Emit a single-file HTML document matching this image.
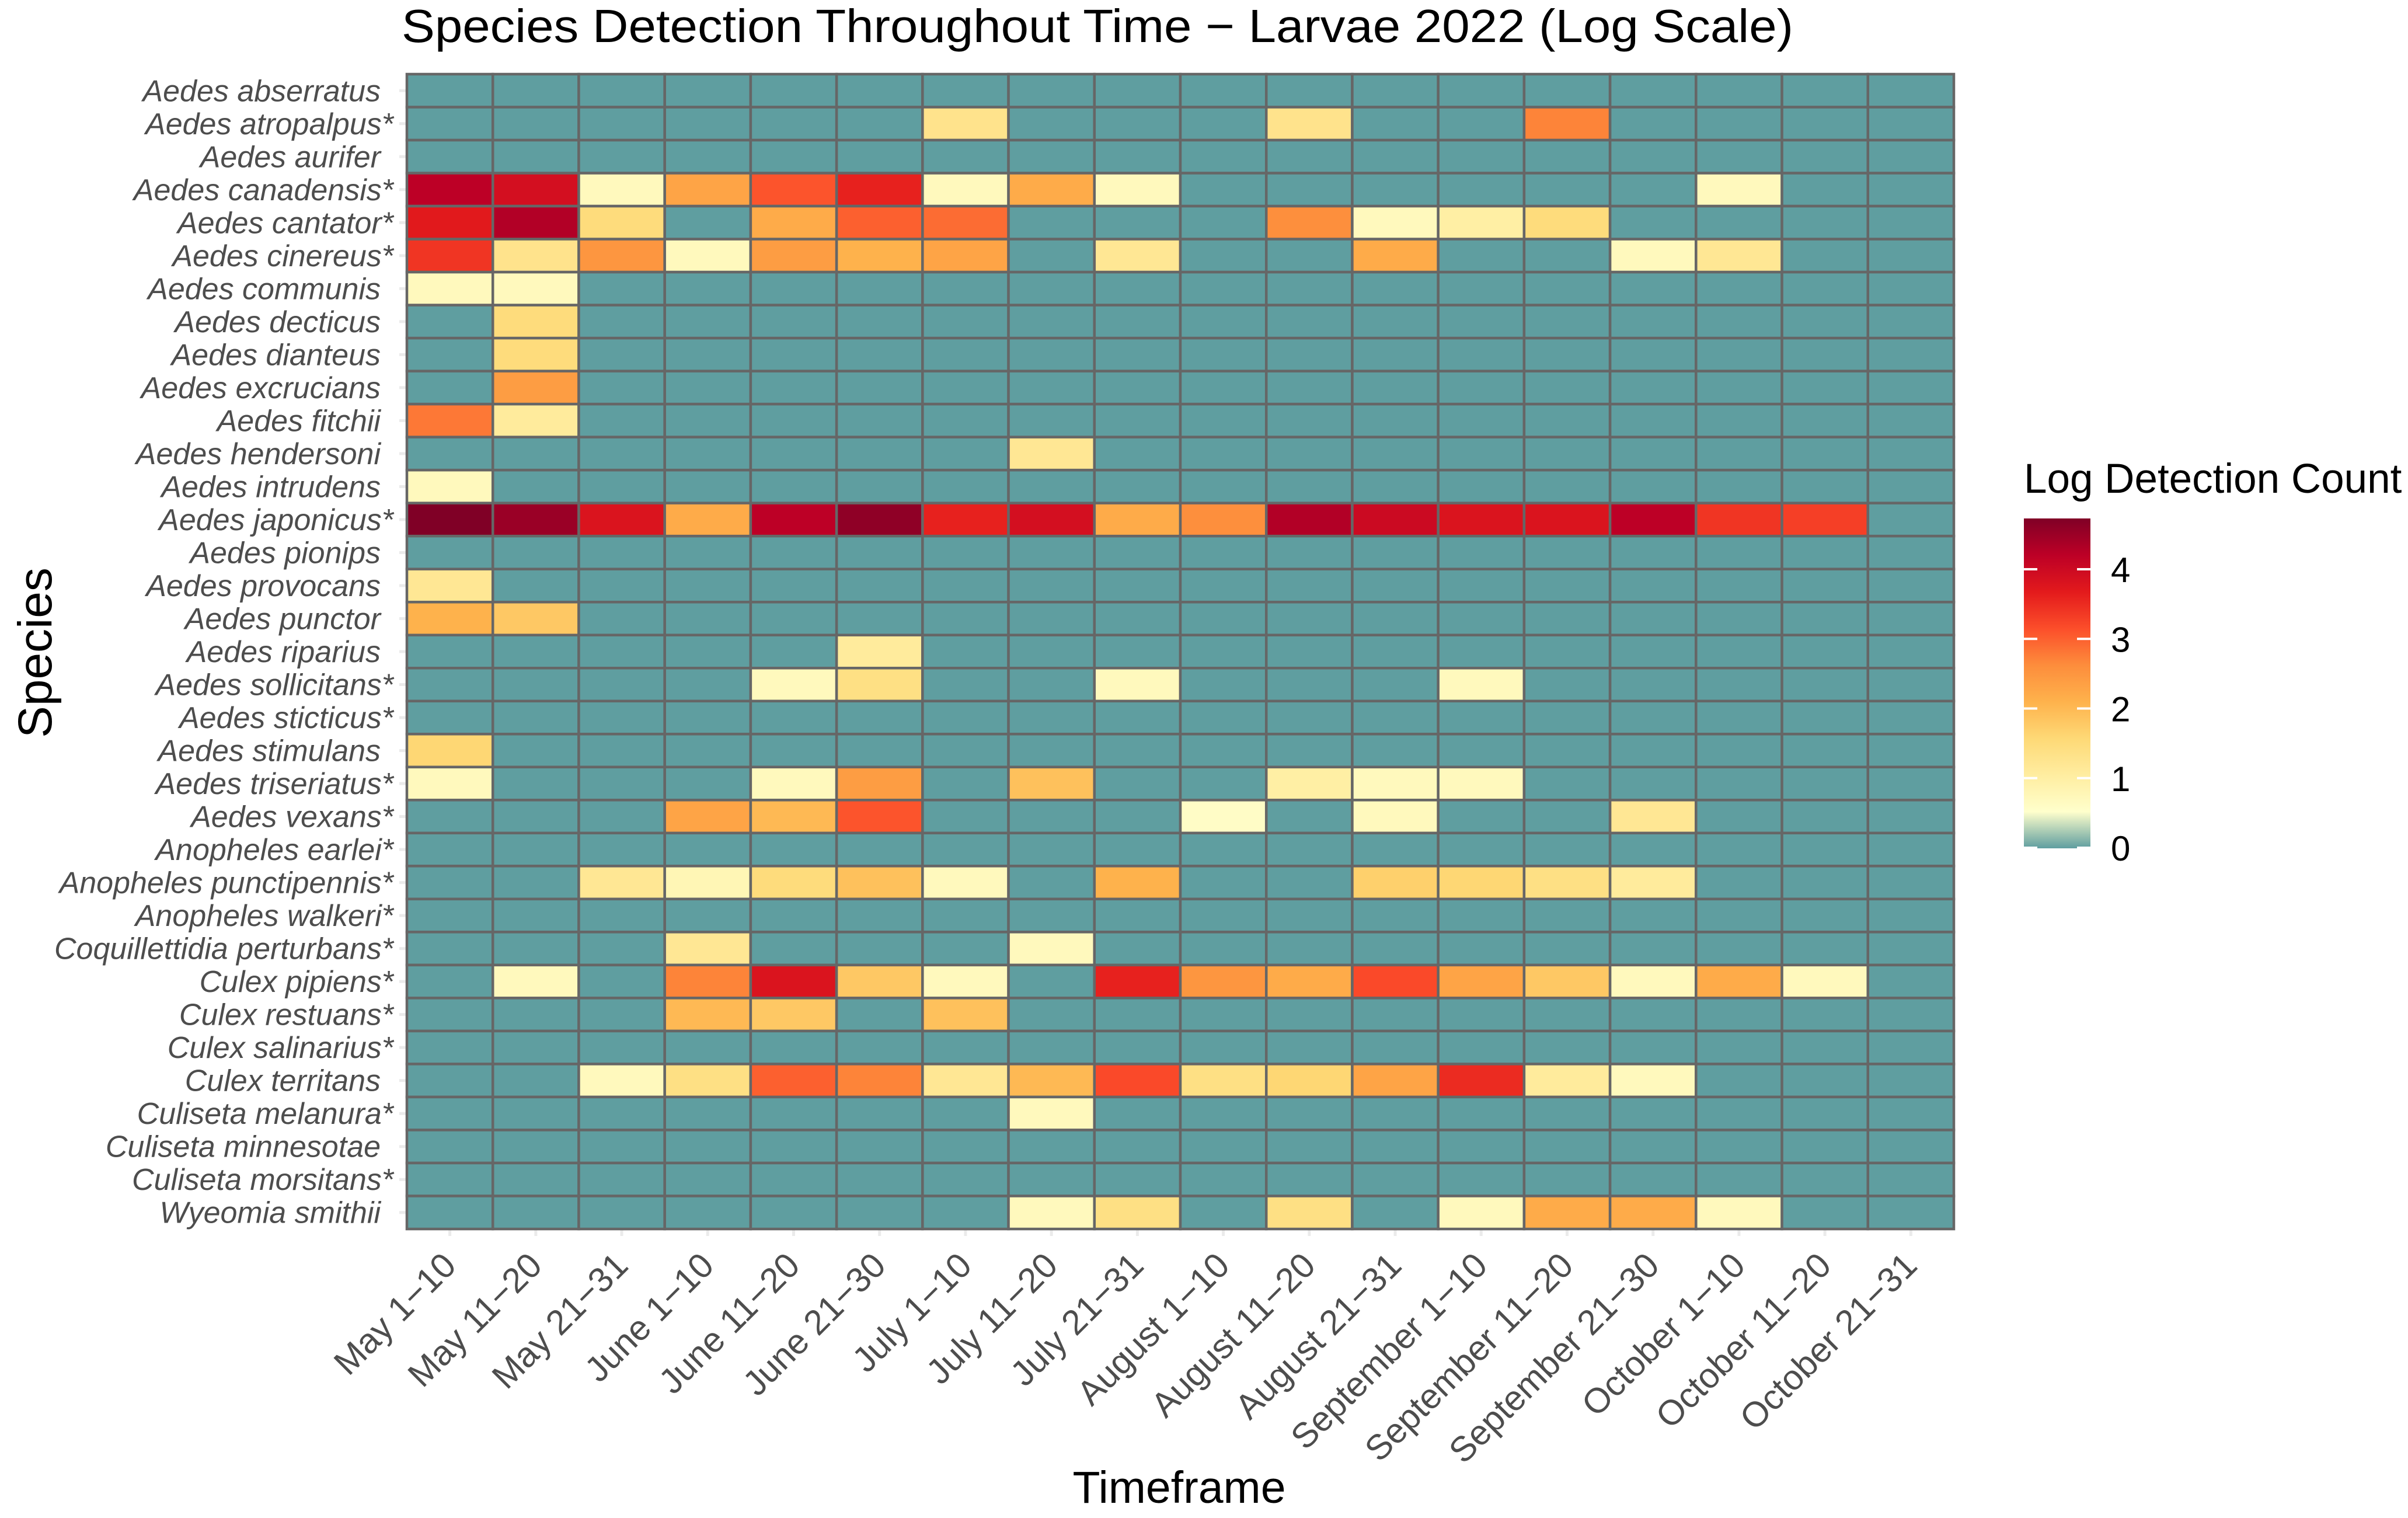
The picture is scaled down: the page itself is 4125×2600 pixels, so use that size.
<!DOCTYPE html>
<html><head><meta charset="utf-8"><style>
html,body{margin:0;padding:0;background:#fff;}
svg{display:block;font-family:"Liberation Sans",Arial,sans-serif;}
</style></head><body>
<svg id="chart" width="4125" height="2600" viewBox="0 0 4125 2600" xmlns="http://www.w3.org/2000/svg">
<defs>
<linearGradient id="lg" x1="0" y1="1" x2="0" y2="0">
<stop offset="0" stop-color="#5F9EA0"/><stop offset="0.111" stop-color="#FFFFCC"/><stop offset="0.222" stop-color="#FFEDA0"/><stop offset="0.333" stop-color="#FED976"/><stop offset="0.444" stop-color="#FEB24C"/><stop offset="0.555" stop-color="#FD8D3C"/><stop offset="0.666" stop-color="#FC4E2A"/><stop offset="0.777" stop-color="#E31A1C"/><stop offset="0.888" stop-color="#BD0026"/><stop offset="1" stop-color="#800026"/>
</linearGradient>
</defs>
<text x="688" y="72" font-size="80" fill="#000" textLength="2384" lengthAdjust="spacingAndGlyphs">Species Detection Throughout Time − Larvae 2022 (Log Scale)</text>
<g id="ygrid"></g>
<g id="xgrid"></g>
<g id="cells"></g>
<g id="ylabels"></g>
<g id="xlabels"></g>
<text x="2020" y="2574" font-size="77" text-anchor="middle" fill="#000">Timeframe</text>
<text transform="translate(88,1118) rotate(-90)" font-size="82" text-anchor="middle" fill="#000">Species</text>
<g>
<text x="3467" y="844" font-size="71" fill="#000">Log Detection Count</text>
<rect x="3467" y="888" width="114" height="565" fill="url(#lg)"/>
<g id="legticks"></g>
</g>
</svg>
<script>
const species = ["Aedes abserratus","Aedes atropalpus*","Aedes aurifer","Aedes canadensis*","Aedes cantator*","Aedes cinereus*","Aedes communis","Aedes decticus","Aedes dianteus","Aedes excrucians","Aedes fitchii","Aedes hendersoni","Aedes intrudens","Aedes japonicus*","Aedes pionips","Aedes provocans","Aedes punctor","Aedes riparius","Aedes sollicitans*","Aedes sticticus*","Aedes stimulans","Aedes triseriatus*","Aedes vexans*","Anopheles earlei*","Anopheles punctipennis*","Anopheles walkeri*","Coquillettidia perturbans*","Culex pipiens*","Culex restuans*","Culex salinarius*","Culex territans","Culiseta melanura*","Culiseta minnesotae","Culiseta morsitans*","Wyeomia smithii"];
const timeframes = ["May 1−10","May 11−20","May 21−31","June 1−10","June 11−20","June 21−30","July 1−10","July 11−20","July 21−31","August 1−10","August 11−20","August 21−31","September 1−10","September 11−20","September 21−30","October 1−10","October 11−20","October 21−31"];
const legendTicks = [0,1,2,3,4];
const values = [
[0,0,0,0,0,0,0,0,0,0,0,0,0,0,0,0,0,0],
[0,0,0,0,0,0,1.3,0,0,0,1.3,0,0,2.7,0,0,0,0],
[0,0,0,0,0,0,0,0,0,0,0,0,0,0,0,0,0,0],
[4.2,3.9,0.7,2.3,3.1,3.6,0.7,2.2,0.7,0,0,0,0,0,0,0.7,0,0],
[3.7,4.3,1.5,0,2.2,3.0,2.9,0,0,0,2.6,0.7,1.0,1.5,0,0,0,0],
[3.4,1.3,2.5,0.7,2.4,2.1,2.3,0,1.2,0,0,2.2,0,0,0.7,1.2,0,0],
[0.7,0.7,0,0,0,0,0,0,0,0,0,0,0,0,0,0,0,0],
[0,1.5,0,0,0,0,0,0,0,0,0,0,0,0,0,0,0,0],
[0,1.5,0,0,0,0,0,0,0,0,0,0,0,0,0,0,0,0],
[0,2.4,0,0,0,0,0,0,0,0,0,0,0,0,0,0,0,0],
[2.8,1.1,0,0,0,0,0,0,0,0,0,0,0,0,0,0,0,0],
[0,0,0,0,0,0,0,1.2,0,0,0,0,0,0,0,0,0,0],
[0.7,0,0,0,0,0,0,0,0,0,0,0,0,0,0,0,0,0],
[4.73,4.5,3.8,2.2,4.2,4.6,3.6,3.9,2.2,2.6,4.3,4.0,3.8,3.8,4.2,3.4,3.3,0],
[0,0,0,0,0,0,0,0,0,0,0,0,0,0,0,0,0,0],
[1.2,0,0,0,0,0,0,0,0,0,0,0,0,0,0,0,0,0],
[2.1,1.8,0,0,0,0,0,0,0,0,0,0,0,0,0,0,0,0],
[0,0,0,0,0,1.1,0,0,0,0,0,0,0,0,0,0,0,0],
[0,0,0,0,0.7,1.4,0,0,0.7,0,0,0,0.7,0,0,0,0,0],
[0,0,0,0,0,0,0,0,0,0,0,0,0,0,0,0,0,0],
[1.6,0,0,0,0,0,0,0,0,0,0,0,0,0,0,0,0,0],
[0.7,0,0,0,0.7,2.4,0,1.9,0,0,1.0,0.7,0.7,0,0,0,0,0],
[0,0,0,2.3,2.0,3.1,0,0,0,0.6,0,0.7,0,0,1.2,0,0,0],
[0,0,0,0,0,0,0,0,0,0,0,0,0,0,0,0,0,0],
[0,0,1.2,0.8,1.5,1.9,0.7,0,2.1,0,0,1.7,1.6,1.4,1.1,0,0,0],
[0,0,0,0,0,0,0,0,0,0,0,0,0,0,0,0,0,0],
[0,0,0,1.2,0,0,0,0.7,0,0,0,0,0,0,0,0,0,0],
[0,0.7,0,2.7,3.8,1.8,0.7,0,3.6,2.5,2.2,3.2,2.3,1.8,0.7,2.2,0.7,0],
[0,0,0,2.0,1.8,0,1.9,0,0,0,0,0,0,0,0,0,0,0],
[0,0,0,0,0,0,0,0,0,0,0,0,0,0,0,0,0,0],
[0,0,0.7,1.4,3.0,2.7,1.2,2.0,3.2,1.4,1.6,2.3,3.5,1.1,0.7,0,0,0],
[0,0,0,0,0,0,0,0.7,0,0,0,0,0,0,0,0,0,0],
[0,0,0,0,0,0,0,0,0,0,0,0,0,0,0,0,0,0],
[0,0,0,0,0,0,0,0,0,0,0,0,0,0,0,0,0,0],
[0,0,0,0,0,0,0,0.7,1.4,0,1.4,0,0.7,2.2,2.2,0.7,0,0]
];
const vmax = 4.73;
const NS="http://www.w3.org/2000/svg";
const X0=697,X1=3347,Y0=127,Y1=2105;
const cw=(X1-X0)/timeframes.length, ch=(Y1-Y0)/species.length;
function xPos(i){return X0+i*cw;}
function yPos(j){return Y0+j*ch;}
const stops=[[0,"#5F9EA0"],[0.111,"#FFFFCC"],[0.222,"#FFEDA0"],[0.333,"#FED976"],[0.444,"#FEB24C"],[0.555,"#FD8D3C"],[0.666,"#FC4E2A"],[0.777,"#E31A1C"],[0.888,"#BD0026"],[1,"#800026"]];
function hx(h){return [1,3,5].map(k=>parseInt(h.substr(k,2),16));}
function color(v){
  let t=Math.max(0,Math.min(1,v/vmax));
  for(let k=1;k<stops.length;k++){
    if(t<=stops[k][0]){
      const a=stops[k-1],b=stops[k];const f=(t-a[0])/(b[0]-a[0]);
      const ca=hx(a[1]),cb=hx(b[1]);
      return "rgb("+ca.map((c,i)=>Math.round(c+(cb[i]-c)*f)).join(",")+")";
    }
  }
  return stops[stops.length-1][1];
}
function mk(tag,attrs,parent){const e=document.createElementNS(NS,tag);for(const k in attrs)e.setAttribute(k,attrs[k]);parent.appendChild(e);return e;}
const gc=document.getElementById('cells'),gy=document.getElementById('ylabels'),gx=document.getElementById('xlabels');
const tky=document.getElementById('ygrid'),tkx=document.getElementById('xgrid');
species.forEach((s,j)=>{
  const cy=yPos(j)+ch/2;
  const t=mk('line',{x1:684,x2:X0,y1:cy,y2:cy,stroke:"#ebebeb","stroke-width":5},tky);
  
  
  const star=s.endsWith('*');
  const lab=mk('text',{x:star?674:652,y:cy+18,"font-size":52,"font-style":"italic","text-anchor":"end",fill:"#4d4d4d"},gy);
  lab.textContent=s;
  
  
  values[j].forEach((v,i)=>{
    const r=mk('rect',{x:xPos(i),y:yPos(j),width:cw,height:ch,fill:color(v),stroke:"#666666","stroke-width":4.5},gc);
    
    
  });
});
timeframes.forEach((tf,i)=>{
  const cx=xPos(i)+cw/2;
  const t=mk('line',{x1:cx,x2:cx,y1:Y1,y2:Y1+12,stroke:"#ebebeb","stroke-width":5},tkx);
  
  
  const lab=mk('text',{transform:"translate("+(cx+14)+","+(Y1+66)+") rotate(-45)","font-size":60,"text-anchor":"end",fill:"#4d4d4d"},gx);
  lab.textContent=tf;
  
  
});
const lt=document.getElementById('legticks');
const LB=1452,LT=888;
function legY(v){return LB-(LB-LT)*v/vmax;}
legendTicks.forEach(v=>{
  const y=legY(v);
  const a=mk('line',{x1:3467,x2:3490,y1:y,y2:y,stroke:"#fff","stroke-width":4},lt);
  
  
  const b=mk('line',{x1:3558,x2:3581,y1:y,y2:y,stroke:"#fff","stroke-width":4},lt);
  
  
  const l=mk('text',{x:3616,y:y+22,"font-size":60,fill:"#000"},lt);
  l.textContent=String(v);
  
  
});
</script>
</body></html>
